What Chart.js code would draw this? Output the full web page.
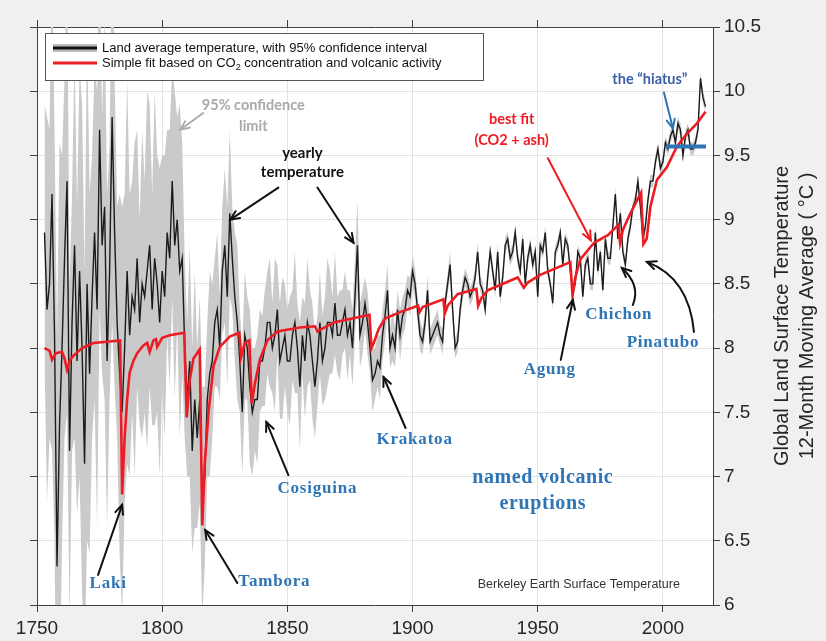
<!DOCTYPE html>
<html>
<head>
<meta charset="utf-8">
<title>Berkeley Earth land temperature</title>
<script src="https://cdn.jsdelivr.net/npm/chart.js@4.4.1/dist/chart.umd.min.js"></script>
<style>
  html, body { margin: 0; padding: 0; background: #f0f0f0; }
  #wrap { width: 826px; height: 641px; }
</style>
</head>
<body>
<div id="wrap"><canvas id="temp-chart" width="826" height="641"></canvas></div>
<script>
  // ---- data ----
  var firstYear = 1753;

  // land average temperature, yearly
  var landTemp = [
    8.9, 8.3, 8.5, 9.2, 8.1, 6.3, 7.4,                     // 1753-1759
    8.0, 8.7, 9.3, 7.2, 8.2, 8.8, 7.9, 8.6, 8.0, 7.1,      // 1760s
    8.5, 7.8, 8.4, 8.9, 8.3, 9.7, 8.8, 9.1, 7.9, 8.6,      // 1770s
    9.8, 8.9, 8.2, 7.8, 7.5, 8.0, 8.6, 8.1, 8.4, 8.3,      // 1780s
    8.7, 8.2, 8.5, 8.4, 8.6, 8.8, 8.3, 8.7, 8.5, 8.2,      // 1790s
    8.6, 8.4, 8.9, 8.7, 9.3, 8.8, 9.0, 8.6, 8.7, 8.0,      // 1800s
    7.6, 7.9, 7.2, 7.6, 7.3, 7.6, 6.8, 7.0, 7.6, 7.8,      // 1810s
    7.9, 8.2, 8.3, 8.0, 8.6, 8.8, 8.4, 9.05, 8.7, 8.4,     // 1820s
    8.2, 7.9, 7.5, 8.1, 8.0, 7.7, 7.5, 7.6, 7.6, 7.9,      // 1830s
    7.9, 8.0, 8.2, 8.2, 8.0, 8.1, 8.3, 7.9, 8.0, 8.1,      // 1840s
    7.9, 7.9, 8.1, 8.2, 8.0, 7.7, 8.1, 7.9, 8.2, 8.1,      // 1850s
    7.9, 7.7, 7.9, 8.2, 7.9, 8.0, 8.2, 8.2, 8.1, 8.35,     // 1860s
    8.1, 8.1, 8.2, 8.3, 8.1, 8.2, 8.0, 8.4, 8.8, 8.1,      // 1870s
    8.2, 8.35, 8.2, 8.0, 7.75, 7.8, 7.9, 7.85, 8.1, 8.25,  // 1880s
    8.45, 8.0, 8.1, 8.0, 8.3, 8.1, 8.25, 8.3, 8.45, 8.4,   // 1890s
    8.6, 8.5, 8.3, 8.1, 8.05, 8.2, 8.45, 8.05, 8.1, 8.15,  // 1900s
    8.2, 8.1, 8.05, 8.35, 8.5, 8.65, 8.3, 8.0, 8.05, 8.3,  // 1910s
    8.45, 8.55, 8.5, 8.4, 8.45, 8.55, 8.75, 8.5, 8.45, 8.3, // 1920s
    8.55, 8.75, 8.6, 8.45, 8.75, 8.4, 8.55, 8.8, 8.85, 8.7, // 1930s
    8.75, 8.9, 8.7, 8.6, 8.85, 8.5, 8.7, 8.8, 8.65, 8.75,  // 1940s
    8.4, 8.8, 8.75, 8.9, 8.6, 8.5, 8.35, 8.75, 8.8, 8.9,   // 1950s
    8.65, 8.85, 8.8, 8.6, 8.45, 8.5, 8.75, 8.7, 8.4, 8.65, // 1960s
    8.7, 8.5, 8.5, 8.9, 8.6, 8.75, 8.45, 8.85, 8.7, 8.7,   // 1970s
    8.95, 9.2, 8.85, 9.05, 8.75, 8.65, 8.85, 8.95, 9.1, 9.15, // 1980s
    9.3, 9.1, 8.85, 8.95, 9.15, 9.3, 9.3, 9.45, 9.55, 9.4, // 1990s
    9.45, 9.6, 9.55, 9.65, 9.7, 9.6, 9.75, 9.7, 9.5, 9.65, // 2000s
    9.7, 9.55, 9.55, 9.6, 9.7, 10.1, 9.95, 9.88            // 2010-2017
  ];

  // half width of the 95% confidence interval, yearly
  var uncertainty = [
    1.0, 1.5, 1.2, 2.0, 1.6, 1.8, 2.2,
    1.5, 1.4, 1.8, 1.3, 1.0, 1.5, 1.2, 1.6, 1.9, 1.5,
    2.0, 1.4, 1.1, 1.3, 1.7, 1.4, 1.0, 1.5, 1.3, 1.0,
    1.6, 1.2, 0.9, 1.4, 1.6, 1.2, 1.5, 1.1, 0.9, 1.3,
    1.0, 0.8, 1.2, 0.9, 1.4, 1.1, 0.9, 1.3, 1.0, 1.2,
    0.9, 1.1, 0.8, 1.0, 0.9, 1.2, 0.8, 1.3, 0.9, 0.7,
    0.6, 0.9, 0.8, 1.0, 0.7, 0.8, 0.9, 0.7, 0.6, 0.8,
    0.6, 0.5, 0.6, 0.4, 0.5, 0.6, 0.7, 0.65, 0.4, 0.5,
    0.6, 0.4, 0.5, 0.5, 0.4, 0.6, 0.5, 0.4, 0.5, 0.4,
    0.35, 0.45, 0.4, 0.5, 0.35, 0.6, 0.35, 0.45, 0.55, 0.4,
    0.4, 0.5, 0.35, 0.55, 0.35, 0.5, 0.3, 0.45, 0.5, 0.35,
    0.45, 0.4, 0.35, 0.4, 0.35, 0.4, 0.5, 0.4, 0.3, 0.4,
    0.3, 0.35, 0.25, 0.3, 0.35, 0.25, 0.3, 0.3, 0.35, 0.25,
    0.25, 0.2, 0.25, 0.2, 0.25, 0.2, 0.2, 0.25, 0.2, 0.2,
    0.2, 0.15, 0.2, 0.15, 0.15, 0.2, 0.15, 0.15, 0.12, 0.15,
    0.12, 0.12, 0.1, 0.12, 0.1, 0.1, 0.12, 0.1, 0.1, 0.1,
    0.1, 0.08, 0.1, 0.08, 0.08, 0.1, 0.08, 0.08, 0.08, 0.08,
    0.08, 0.07, 0.07, 0.07, 0.07, 0.07, 0.07, 0.06, 0.06, 0.06,
    0.06, 0.06, 0.06, 0.06, 0.06, 0.06, 0.06, 0.06, 0.06, 0.06,
    0.06, 0.06, 0.06, 0.06, 0.06, 0.06, 0.06, 0.06, 0.06, 0.06,
    0.05, 0.05, 0.05, 0.05, 0.05, 0.05, 0.05, 0.05, 0.05, 0.05,
    0.05, 0.05, 0.05, 0.05, 0.05, 0.05, 0.05, 0.05, 0.05, 0.05,
    0.05, 0.05, 0.05, 0.05, 0.05, 0.05, 0.05, 0.05, 0.05, 0.05,
    0.05, 0.05, 0.05, 0.05, 0.05, 0.05, 0.05, 0.05, 0.05, 0.05,
    0.05, 0.05, 0.05, 0.05, 0.05, 0.05, 0.05, 0.05, 0.05, 0.05,
    0.05, 0.05, 0.05, 0.05, 0.05, 0.05, 0.05, 0.05, 0.05, 0.05,
    0.05, 0.05, 0.05, 0.05, 0.05, 0.05, 0.05, 0.05
  ];

  // simple fit (CO2 + volcanic ash)
  var fitYears = [
    1753, 1755, 1756, 1757.5, 1760, 1761, 1762, 1763, 1764.5, 1768,
    1772.5, 1778, 1783.2, 1784, 1785, 1786, 1787, 1788.5, 1790, 1792.5,
    1794, 1795, 1796.5, 1797.5, 1798, 1800, 1803, 1808.8, 1809.8, 1811,
    1812.5, 1815, 1816, 1817, 1818.5, 1820.5, 1823, 1827, 1830.8, 1831.5,
    1833, 1834.8, 1835.8, 1837, 1839, 1842, 1846, 1855, 1861, 1862,
    1868.5, 1882.8, 1883.6, 1884.5, 1886.5, 1889, 1895, 1902.2, 1902.8, 1904,
    1912.3, 1912.9, 1914, 1918, 1925.5, 1926.2, 1927.5, 1930, 1942, 1944.4,
    1946, 1951, 1963, 1963.9, 1965, 1967, 1972.5, 1978, 1982.2, 1982.9,
    1984, 1987, 1991.3, 1992.2, 1993.5, 1995, 1997.6, 2001.6, 2005.6, 2009.6,
    2013.6, 2017
  ];
  var fitTemp = [
    8.00, 7.98, 7.91, 7.96, 7.97, 7.92, 7.83, 7.90, 7.94, 8.00,
    8.04, 8.05, 8.06, 6.86, 7.30, 7.60, 7.81, 7.90, 7.96, 8.02,
    8.04, 7.97, 8.06, 8.07, 8.01, 8.08, 8.10, 8.12, 7.46, 7.75,
    7.92, 7.99, 6.62, 7.10, 7.50, 7.86, 8.01, 8.09, 8.12, 7.93,
    8.04, 8.06, 7.57, 7.72, 7.91, 8.06, 8.13, 8.16, 8.17, 8.13,
    8.20, 8.26, 8.00, 8.04, 8.15, 8.23, 8.28, 8.33, 8.28, 8.32,
    8.38, 8.27, 8.33, 8.42, 8.46, 8.33, 8.39, 8.45, 8.55, 8.47,
    8.51, 8.57, 8.67, 8.41, 8.55, 8.69, 8.82, 8.88, 8.96, 8.82,
    8.92, 9.05, 9.21, 8.81, 8.85, 9.10, 9.31, 9.41, 9.57, 9.67,
    9.75, 9.84
  ];

  // the "hiatus" level
  var hiatusYears = [2001.2, 2017.2];
  var hiatusTemp = 9.57;

  var yearTicks = [1750, 1800, 1850, 1900, 1950, 2000];

  // ---- build series ----
  var years = landTemp.map(function (v, i) { return firstYear + i; });
  var meanPts = years.map(function (yr, i) { return { x: yr, y: landTemp[i] }; });
  var upperPts = years.map(function (yr, i) { return { x: yr, y: landTemp[i] + uncertainty[i] }; });
  var lowerPts = years.map(function (yr, i) { return { x: yr, y: landTemp[i] - uncertainty[i] }; });
  var fitPts = fitYears.map(function (yr, i) { return { x: yr, y: fitTemp[i] }; });
  var hiatusPts = hiatusYears.map(function (yr) { return { x: yr, y: hiatusTemp }; });

  var SANS = "'Liberation Sans', Arial, sans-serif";
  var SERIF = "'Liberation Serif', 'Times New Roman', serif";
  var CAL = "Lato, 'Open Sans', sans-serif";
  var BLUE = "#2e75b6";
  var RED = "#ec1c24";

  function setYearTicks(axis) {
    axis.ticks = yearTicks.map(function (v) { return { value: v }; });
  }
  function plainNumber(v) { return String(v); }

  // arrow with open head, optional quadratic bend
  function arrow(ctx, x1, y1, x2, y2, color, width, cx, cy) {
    ctx.save();
    ctx.strokeStyle = color;
    ctx.lineWidth = width;
    ctx.lineCap = "round";
    ctx.beginPath();
    ctx.moveTo(x1, y1);
    if (cx !== undefined) ctx.quadraticCurveTo(cx, cy, x2, y2);
    else ctx.lineTo(x2, y2);
    ctx.stroke();
    var fx = cx !== undefined ? cx : x1;
    var fy = cy !== undefined ? cy : y1;
    var a = Math.atan2(y2 - fy, x2 - fx);
    var h = 10;
    ctx.beginPath();
    ctx.moveTo(x2 - h * Math.cos(a - 0.42), y2 - h * Math.sin(a - 0.42));
    ctx.lineTo(x2, y2);
    ctx.lineTo(x2 - h * Math.cos(a + 0.42), y2 - h * Math.sin(a + 0.42));
    ctx.stroke();
    ctx.restore();
  }

  function label(ctx, text, x, y, font, color, spacing) {
    ctx.save();
    ctx.font = font;
    ctx.fillStyle = color;
    ctx.textAlign = "center";
    ctx.textBaseline = "middle";
    if (spacing) ctx.letterSpacing = spacing;
    ctx.fillText(text, x, y);
    ctx.restore();
  }

  var overlay = {
    id: "overlay",
    beforeDraw: function (chart) {
      var a = chart.chartArea, ctx = chart.ctx;
      ctx.save();
      ctx.fillStyle = "#ffffff";
      ctx.fillRect(a.left, a.top, a.right - a.left, a.bottom - a.top);
      ctx.restore();
    },
    afterDraw: function (chart) {
      var ctx = chart.ctx, a = chart.chartArea;
      var sx = chart.scales.x, sy = chart.scales.y;
      var X = function (v) { return sx.getPixelForValue(v); };
      var Y = function (v) { return sy.getPixelForValue(v); };

      // notes
      label(ctx, "95% confidence", X(1836.4), Y(9.89), "bold 14.5px " + CAL, "#a9a9a9");
      label(ctx, "limit", X(1836.4), Y(9.73), "bold 14.5px " + CAL, "#a9a9a9");
      arrow(ctx, X(1816.4), Y(9.83), X(1807.2), Y(9.70), "#a9a9a9", 1.8);

      label(ctx, "yearly", X(1856), Y(9.52), "bold 15px " + CAL, "#111");
      label(ctx, "temperature", X(1856), Y(9.37), "bold 15px " + CAL, "#111");
      arrow(ctx, X(1846.4), Y(9.25), X(1827.2), Y(9.00), "#111", 2);
      arrow(ctx, X(1862), Y(9.25), X(1876.4), Y(8.82), "#111", 2);

      label(ctx, "best fit", X(1939.6), Y(9.78), "bold 14.5px " + CAL, RED);
      label(ctx, "(CO2 + ash)", X(1939.6), Y(9.62), "bold 14.5px " + CAL, RED);
      arrow(ctx, X(1954), Y(9.48), X(1971.2), Y(8.84), RED, 2);

      label(ctx, "the \u201chiatus\u201d", X(1994.8), Y(10.09), "bold 14.5px " + CAL, "#3a5fa5");
      arrow(ctx, X(2000.4), Y(9.99), X(2004), Y(9.71), BLUE, 2);

      // volcanoes
      var vf = "bold 17px " + SERIF;
      label(ctx, "Laki", X(1778.4), Y(6.17), vf, BLUE, "0.8px");
      arrow(ctx, X(1774.4), Y(6.234), X(1784), Y(6.78), "#111", 2);
      label(ctx, "Tambora", X(1844.8), Y(6.18), vf, BLUE, "0.8px");
      arrow(ctx, X(1830), Y(6.171), X(1817.2), Y(6.584), "#111", 2);
      label(ctx, "Cosiguina", X(1862), Y(6.91), vf, BLUE, "0.8px");
      arrow(ctx, X(1850.4), Y(7.012), X(1841.6), Y(7.425), "#111", 2);
      label(ctx, "Krakatoa", X(1900.8), Y(7.285), vf, BLUE, "0.8px");
      arrow(ctx, X(1897.2), Y(7.378), X(1888.4), Y(7.775), "#111", 2);
      label(ctx, "Agung", X(1954.8), Y(7.83), vf, BLUE, "0.8px");
      arrow(ctx, X(1959.2), Y(7.908), X(1964), Y(8.375), "#111", 2);
      label(ctx, "Chichon", X(1982.4), Y(8.26), vf, BLUE, "0.8px");
      arrow(ctx, X(1988), Y(8.336), X(1983.6), Y(8.624), "#111", 2, X(1991.2), Y(8.491));
      label(ctx, "Pinatubo", X(2000), Y(8.04), vf, BLUE, "0.8px");
      arrow(ctx, X(2012.4), Y(8.126), X(1993.6), Y(8.671), "#111", 2, X(2010.4), Y(8.546));

      label(ctx, "named volcanic", X(1952), Y(6.99), "bold 20px " + SERIF, BLUE, "0.6px");
      label(ctx, "eruptions", X(1952), Y(6.79), "bold 20px " + SERIF, BLUE, "0.6px");

      label(ctx, "Berkeley Earth Surface Temperature", X(1966.4), Y(6.156), "12.5px " + SANS, "#333");

      // legend
      var lx = a.left + 8, ly = a.top + 6, lw = 438, lh = 47;
      ctx.save();
      ctx.fillStyle = "#ffffff";
      ctx.fillRect(lx, ly, lw, lh);
      ctx.strokeStyle = "#555";
      ctx.lineWidth = 1;
      ctx.strokeRect(lx + 0.5, ly + 0.5, lw, lh);
      var r1 = ly + 15, r2 = ly + 30;
      ctx.fillStyle = "#bdbdbd";
      ctx.fillRect(lx + 8, r1 - 4, 44, 8);
      ctx.strokeStyle = "#111";
      ctx.lineWidth = 3;
      ctx.beginPath(); ctx.moveTo(lx + 8, r1); ctx.lineTo(lx + 52, r1); ctx.stroke();
      ctx.strokeStyle = RED;
      ctx.beginPath(); ctx.moveTo(lx + 8, r2); ctx.lineTo(lx + 52, r2); ctx.stroke();
      ctx.fillStyle = "#111";
      ctx.font = "13px " + SANS;
      ctx.textBaseline = "middle";
      ctx.textAlign = "left";
      ctx.fillText("Land average temperature, with 95% confidence interval", lx + 57, r1);
      var t1 = "Simple fit based on CO";
      ctx.fillText(t1, lx + 57, r2);
      var w1 = ctx.measureText(t1).width;
      ctx.font = "9px " + SANS;
      ctx.fillText("2", lx + 57 + w1, r2 + 5);
      var w2 = ctx.measureText("2").width;
      ctx.font = "13px " + SANS;
      ctx.fillText(" concentration and volcanic activity", lx + 57 + w1 + w2, r2);
      ctx.restore();

      // right axis title
      ctx.save();
      ctx.translate(a.right + 69, (a.top + a.bottom) / 2);
      ctx.rotate(-Math.PI / 2);
      ctx.fillStyle = "#262626";
      ctx.font = "20px " + SANS;
      ctx.textAlign = "center";
      ctx.textBaseline = "middle";
      ctx.fillText("Global Land Surface Temperature", 0, 0);
      ctx.fillText("12-Month Moving Average ( \u00b0C )", 0, 25);
      ctx.restore();
    }
  };

  var ctx = document.getElementById("temp-chart").getContext("2d");
  var tempChart = new Chart(ctx, {
    type: "line",
    data: {
      datasets: [
        { label: "hiatus", data: hiatusPts, borderColor: BLUE, borderWidth: 4 },
        { label: "Simple fit", data: fitPts, borderColor: RED, borderWidth: 2.6 },
        { label: "Land average temperature", data: meanPts, borderColor: "#1b1b1b", borderWidth: 1.4 },
        { label: "upper", data: upperPts, borderColor: "rgba(0,0,0,0)", borderWidth: 0, backgroundColor: "#cacaca", fill: "+1" },
        { label: "lower", data: lowerPts, borderColor: "rgba(0,0,0,0)", borderWidth: 0, fill: false }
      ]
    },
    options: {
      responsive: false,
      animation: false,
      layout: { padding: 0 },
      elements: { point: { radius: 0, hitRadius: 0 }, line: { tension: 0 } },
      plugins: { legend: { display: false }, tooltip: { enabled: false } },
      scales: {
        x: {
          type: "linear", position: "bottom", min: 1750, max: 2020,
          ticks: { color: "#262626", font: { family: SANS, size: 19 }, padding: 5, maxRotation: 0, autoSkip: false, callback: plainNumber },
          grid: { color: "#e3e3e3", tickColor: "#404040", tickLength: 7 },
          border: { color: "#404040" },
          afterBuildTicks: setYearTicks,
          afterFit: function (s) { s.height = 36; }
        },
        xTop: {
          type: "linear", position: "top", min: 1750, max: 2020,
          ticks: { display: false },
          grid: { drawOnChartArea: false, tickColor: "#404040", tickLength: 7 },
          border: { color: "#404040" },
          afterBuildTicks: setYearTicks,
          afterFit: function (s) { s.height = 27; }
        },
        y: {
          type: "linear", position: "right", min: 6, max: 10.5,
          ticks: { stepSize: 0.5, color: "#262626", font: { family: SANS, size: 19 }, padding: 4, callback: plainNumber },
          grid: { color: "#e3e3e3", tickColor: "#404040", tickLength: 7 },
          border: { color: "#404040" },
          afterFit: function (s) { s.width = 113; }
        },
        yLeft: {
          type: "linear", position: "left", min: 6, max: 10.5,
          ticks: { stepSize: 0.5, display: false },
          grid: { drawOnChartArea: false, tickColor: "#404040", tickLength: 7 },
          border: { color: "#404040" },
          afterFit: function (s) { s.width = 37; }
        }
      }
    },
    plugins: [overlay]
  });
</script>
</body>
</html>
